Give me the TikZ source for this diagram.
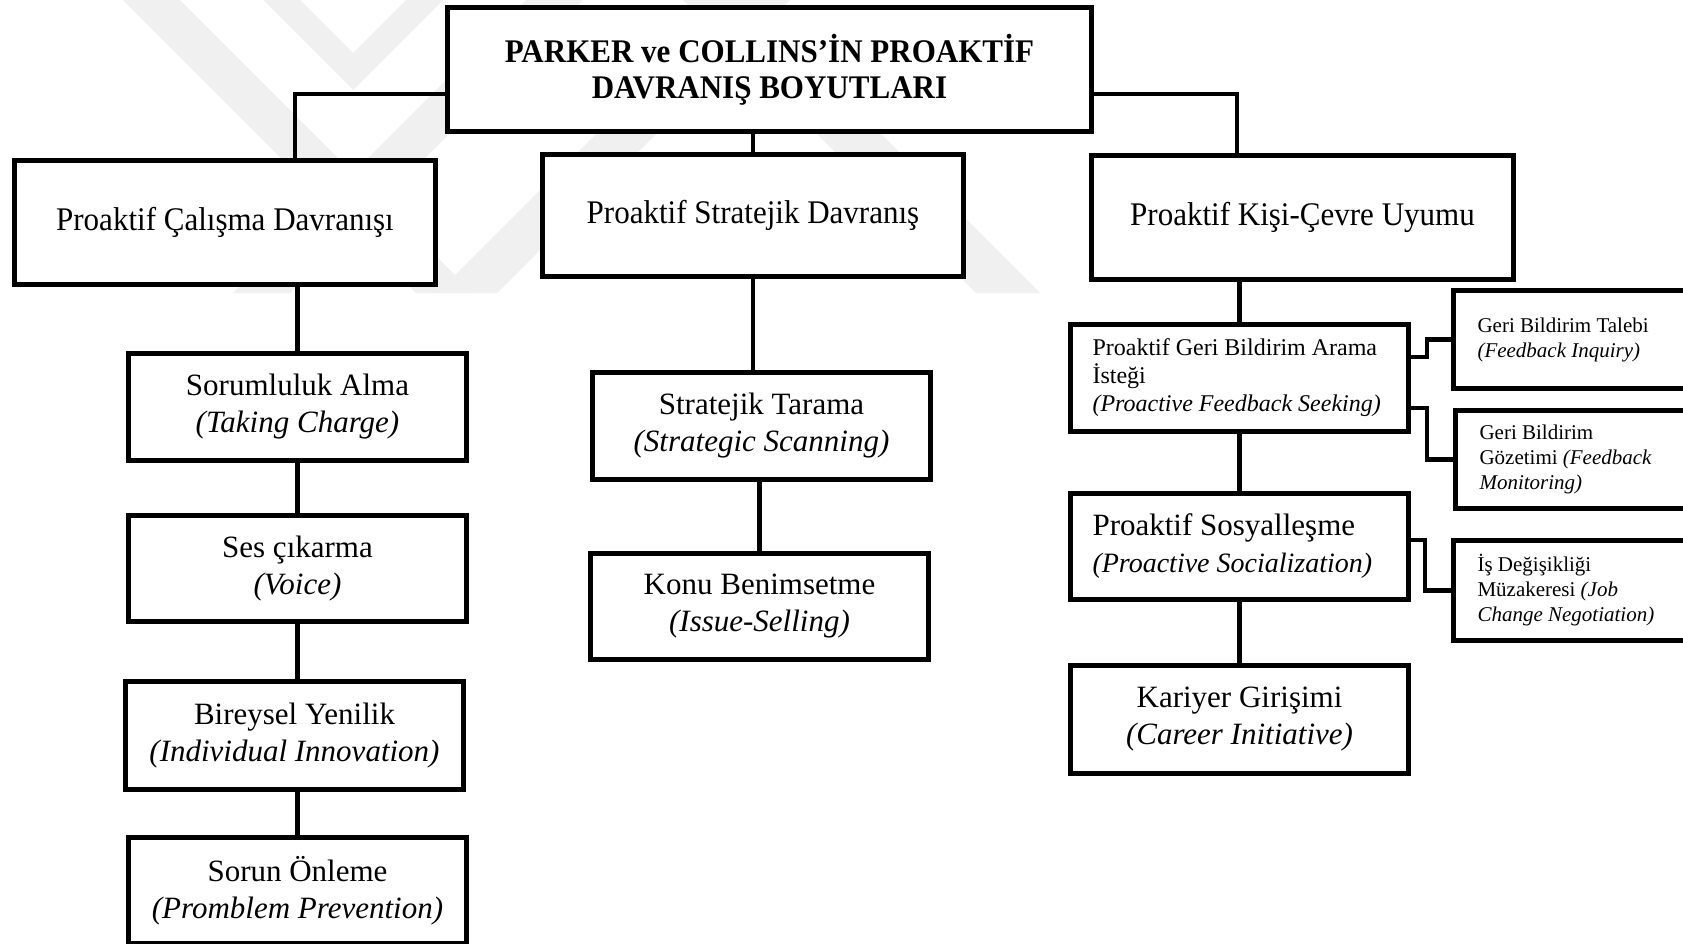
\documentclass[tikz,border=0pt]{standalone}
\usepackage{fontspec}
\setmainfont{Liberation Serif}
\newfontfamily\condserif[FakeStretch=0.94]{Liberation Serif}
\newcommand\fsTitle{\condserif\bfseries\fontsize{33}{36}\selectfont}
\newcommand\fsHead{\condserif\fontsize{33}{38}\selectfont}
\newcommand\fsCol{\fontsize{31}{37}\selectfont}
\newcommand\fsSos{\fontsize{28}{36}\selectfont}
\newcommand\fsMid{\fontsize{24}{28}\selectfont}
\newcommand\fsSmall{\fontsize{21}{25}\selectfont}
\begin{document}
\begin{tikzpicture}[x=1pt,y=-1pt,
  box/.style={draw,line width=5pt,fill=white,inner sep=0pt,anchor=north west,align=center},
  colbox/.style={box,minimum width=338pt,font=\fsCol},
  lbox/.style={box,align=flush left,inner xsep=22pt,text width=294pt,minimum width=338pt},
  sbox/.style={box,align=flush left,inner xsep=24pt,text width=272pt,minimum width=320pt,font=\fsSmall},
  wire/.style={line width=4.5pt},
  wm/.style={fill=black!6}]
\fill[white] (0,0) rectangle (1683,943);
\useasboundingbox (0,0) rectangle (1683,943);
% watermark
\begin{scope}
\clip (0,0) rectangle (1683,293);
\fill[wm] (123,0) -- (180,0) -- (473,293) -- (416,293) -- cycle;
\fill[wm] (263,0) -- (300,0) -- (353,53) -- (406,0) -- (443,0) -- (353,90) -- cycle;
\fill[wm] (526,0) -- (583,0) -- (290,293) -- (233,293) -- cycle;
\fill[wm] (730,0) -- (790,0) -- (497,293) -- (437,293) -- cycle;
\fill[wm] (683,0) -- (747,0) -- (1040,293) -- (976,293) -- cycle;
\end{scope}
% coordinates for elbows
\coordinate (lj) at (295,94);
\coordinate (rj) at (1237,94);
\coordinate (e1) at (1427,357);
\coordinate (e2) at (1427,408);
\coordinate (e3) at (1425,540);
% boxes
\node[box,minimum width=644pt,minimum height=124pt,font=\fsTitle] (top) at (445,5) {PARKER ve COLLINS’İN PROAKTİF\\DAVRANIŞ BOYUTLARI};
\node[box,minimum width=421pt,minimum height=124pt,font=\fsHead] (b1) at (12,158) {Proaktif Çalışma Davranışı};
\node[box,minimum width=421pt,minimum height=122pt,font=\fsHead] (b2) at (540,152) {Proaktif Stratejik Davranış};
\node[box,minimum width=422pt,minimum height=124pt,font=\fsHead] (b3) at (1089,153) {Proaktif Kişi-Çevre Uyumu};
% left column
\node[colbox,minimum height=107pt] (sor) at (126,351) {Sorumluluk Alma\\\textit{(Taking Charge)}};
\node[colbox,minimum height=106pt] (ses) at (126,513) {Ses çıkarma\\\textit{(Voice)}};
\node[colbox,minimum height=108pt] (bir) at (123,679) {Bireysel Yenilik\\\textit{(Individual Innovation)}};
\node[colbox,minimum height=106pt] (son) at (126,835) {Sorun Önleme\\\textit{(Promblem Prevention)}};
% middle column
\node[colbox,minimum height=107pt] (str) at (590,370) {Stratejik Tarama\\\textit{(Strategic Scanning)}};
\node[colbox,minimum height=106pt] (kon) at (588,551) {Konu Benimsetme\\\textit{(Issue-Selling)}};
% right column
\node[lbox,minimum height=107pt,font=\fsMid] (pgb) at (1068,322) {Proaktif Geri Bildirim Arama\\İsteği\\\textit{(Proactive Feedback Seeking)}};
\node[lbox,minimum height=106pt,font=\fsCol] (sos) at (1068,491) {Proaktif Sosyalleşme\\{\fsSos\textit{(Proactive Socialization)}}};
\node[colbox,minimum height=108pt] (kar) at (1068,663) {Kariyer Girişimi\\\textit{(Career Initiative)}};
% far right
\node[sbox,minimum height=98pt] (tal) at (1451,288) {Geri Bildirim Talebi\\\textit{(Feedback Inquiry)}};
\node[sbox,minimum height=98pt] (goz) at (1453,408) {Geri Bildirim\\Gözetimi \textit{(Feedback}\\\textit{Monitoring)}};
\node[sbox,minimum height=100pt] (isd) at (1451,538) {İş Değişikliği\\Müzakeresi \textit{(Job}\\\textit{Change Negotiation)}};
% connectors
\draw[wire] (top.west |- lj) -| (b1.north -| lj);
\draw[wire] (b2.north) -- (b2.north |- top.south);
\draw[wire] (top.east |- rj) -| (b3.north -| rj);
\draw[wire] (b1.south -| sor.north) -- (sor.north);
\draw[wire] (sor.south) -- (ses.north);
\draw[wire] (ses.south) -- (ses.south |- bir.north);
\draw[wire] (bir.south -| son.north) -- (son.north);
\draw[wire] (b2.south) -- (b2.south |- str.north);
\draw[wire] (str.south -| kon.north) -- (kon.north);
\draw[wire] (b3.south -| pgb.north) -- (pgb.north);
\draw[wire] (pgb.south) -- (sos.north);
\draw[wire] (sos.south) -- (kar.north);
\draw[wire] (pgb.east |- e1) -- (e1) |- (tal.west);
\draw[wire] (pgb.east |- e2) -- (e2) |- (goz.west);
\draw[wire] (sos.east |- e3) -- (e3) |- (isd.west);
\end{tikzpicture}
\end{document}
